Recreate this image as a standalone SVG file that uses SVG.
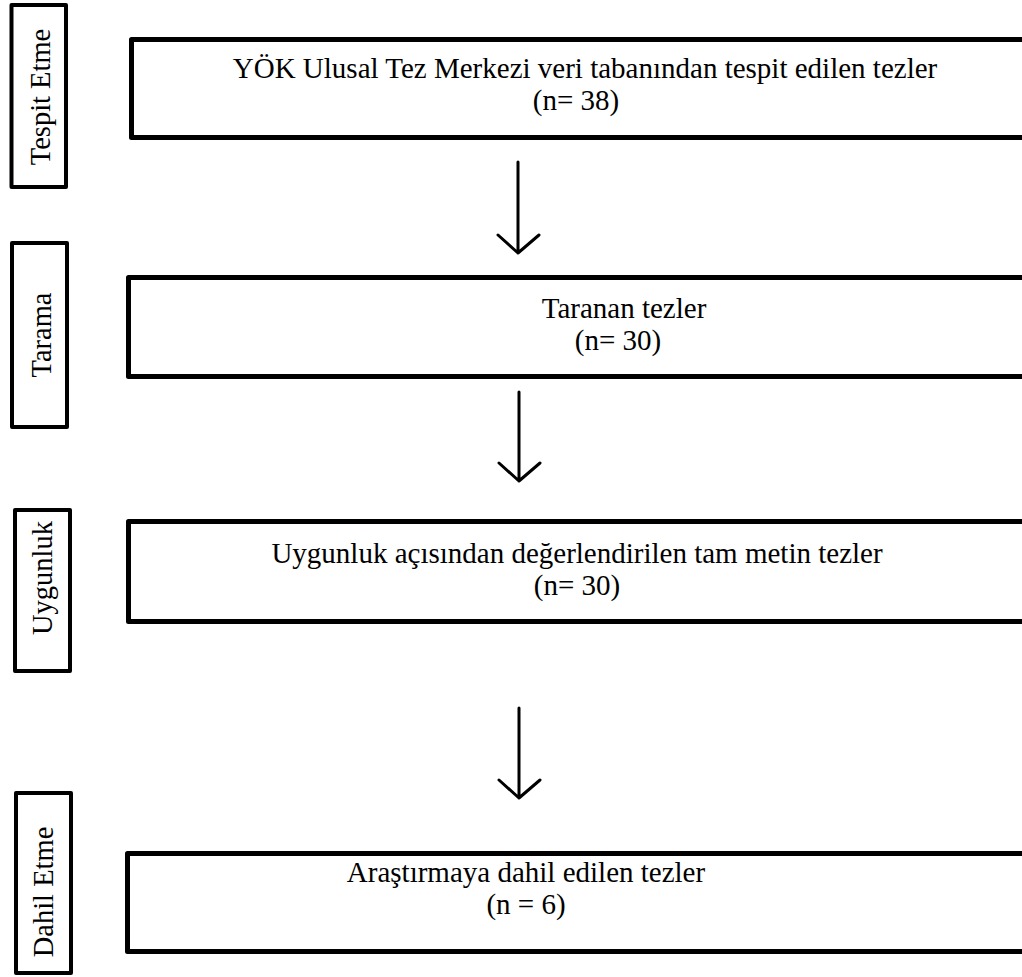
<svg xmlns="http://www.w3.org/2000/svg" width="1022" height="977" viewBox="0 0 1022 977">
<style>
.side{fill:#fff;stroke:#000;stroke-width:4;stroke-linejoin:round}
.main{fill:#fff;stroke:#000;stroke-width:5;stroke-linejoin:round}
.st{font-family:"Liberation Serif","Times New Roman",serif;font-size:28.5px;fill:#000;text-anchor:middle}
.mt{font-family:"Liberation Serif","Times New Roman",serif;font-size:29px;fill:#000;text-anchor:middle}
.arr{fill:none;stroke:#000;stroke-width:3;stroke-linecap:round;stroke-linejoin:round}
</style>
<rect width="1022" height="977" fill="#fff"/>
<g id="stage-tespit">
<rect class="side" x="11.5" y="5" width="54.5" height="182"/>
<text class="st" transform="translate(50,97) rotate(-90)">Tespit Etme</text>
</g>
<g id="stage-tarama">
<rect class="side" x="12" y="243" width="55" height="184"/>
<text class="st" transform="translate(51,335) rotate(-90)">Tarama</text>
</g>
<g id="stage-uygunluk">
<rect class="side" x="15" y="510" width="55" height="161"/>
<text class="st" transform="translate(52,578) rotate(-90)">Uygunluk</text>
</g>
<g id="stage-dahil">
<rect class="side" x="16" y="793" width="55" height="180"/>
<text class="st" transform="translate(53,892) rotate(-90)">Dahil Etme</text>
</g>
<g id="box-tespit">
<rect class="main" x="131.5" y="39.5" width="900" height="98"/>
<text class="mt" x="585" y="78">YÖK Ulusal Tez Merkezi veri tabanından tespit edilen tezler</text>
<text class="mt" x="576" y="110">(n= 38)</text>
</g>
<g id="box-tarama">
<rect class="main" x="128.5" y="277.5" width="900" height="99"/>
<text class="mt" x="624" y="318">Taranan tezler</text>
<text class="mt" x="618" y="350">(n= 30)</text>
</g>
<g id="box-uygunluk">
<rect class="main" x="128.5" y="521.5" width="900" height="100"/>
<text class="mt" x="577" y="563">Uygunluk açısından değerlendirilen tam metin tezler</text>
<text class="mt" x="577" y="595">(n= 30)</text>
</g>
<g id="box-dahil">
<rect class="main" x="127.5" y="853.5" width="900" height="98"/>
<text class="mt" x="526" y="882">Araştırmaya dahil edilen tezler</text>
<text class="mt" x="526" y="914">(n = 6)</text>
</g>
<g id="connectors">
<path class="arr" d="M518,162 V253 M498,235 L518,253 L539,235"/>
<path class="arr" d="M519,392 V481 M499,463 L519,481 L540,463"/>
<path class="arr" d="M519,708 V798 M499,780 L519,798 L540,780"/>
</g>
</svg>
